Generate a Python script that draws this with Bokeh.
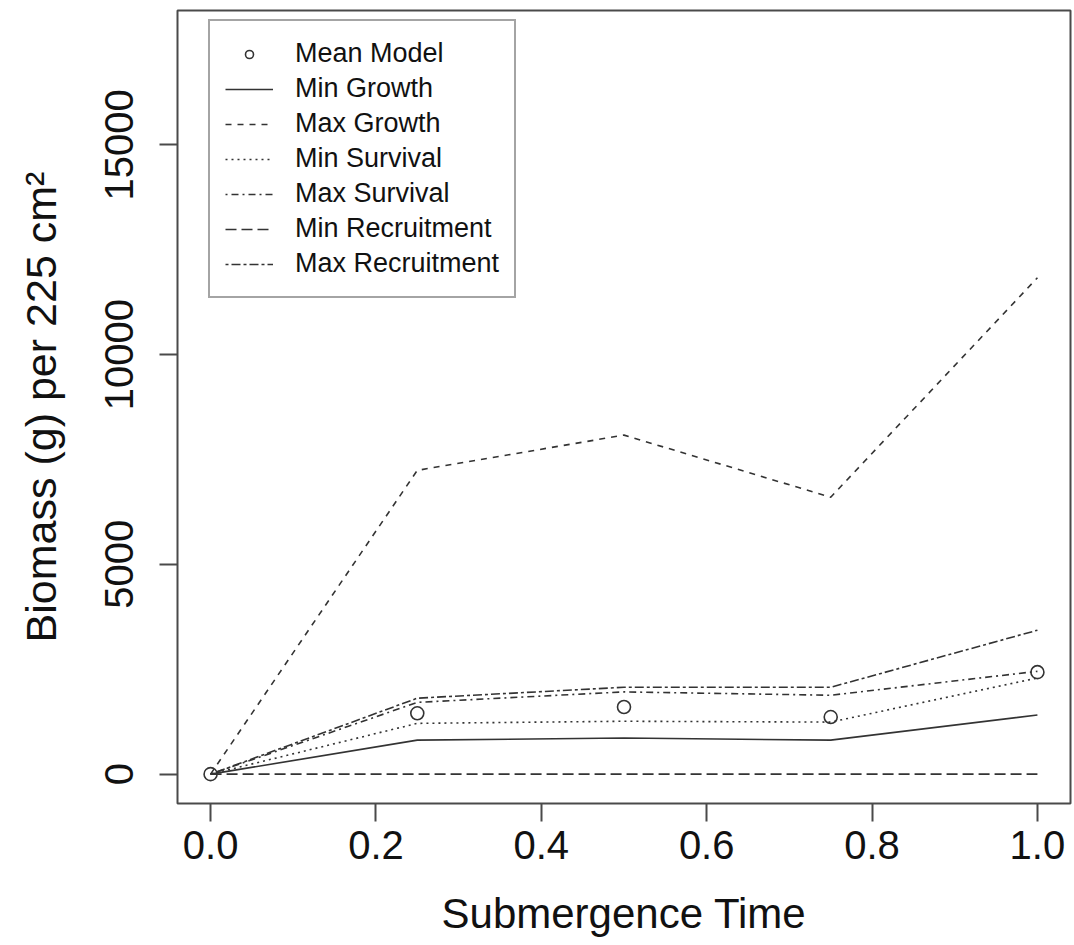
from bokeh.plotting import figure
from bokeh.models import Range1d, FixedTicker, Legend, LegendItem
from bokeh.embed import file_html
from bokeh.resources import INLINE

# ---- data ----
times = [0.0, 0.25, 0.5, 0.75, 1.0]
mean_model = [0, 1450, 1600, 1360, 2430]
min_growth = [0, 810, 860, 810, 1410]
max_growth = [0, 7240, 8080, 6600, 11830]
min_survival = [0, 1210, 1260, 1240, 2290]
max_survival = [0, 1710, 1960, 1880, 2450]
min_recruitment = [0, 0, 0, 0, 0]
max_recruitment = [0, 1810, 2070, 2070, 3430]

x_ticks = [0.0, 0.2, 0.4, 0.6, 0.8, 1.0]
x_tick_labels = ["0.0", "0.2", "0.4", "0.6", "0.8", "1.0"]
y_ticks = [0, 5000, 10000, 15000]
y_tick_labels = ["0", "5000", "10000", "15000"]

FONT = "Liberation Sans"
INK = "#333333"
FRAME = "#4a4a4a"

p = figure(width=1074, height=945, output_backend="svg", toolbar_location=None,
           x_range=Range1d(-0.04, 1.04), y_range=Range1d(-700, 18200),
           min_border_left=177, min_border_right=4, min_border_top=10,
           min_border_bottom=142)
p.background_fill_color = "white"
p.border_fill_color = "white"
p.outline_line_color = FRAME
p.outline_line_width = 2
p.xgrid.visible = False
p.ygrid.visible = False

for ax in (p.xaxis[0], p.yaxis[0]):
    ax.axis_line_color = None
    ax.major_tick_line_color = FRAME
    ax.major_tick_line_width = 2
    ax.major_tick_out = 18
    ax.major_tick_in = 0
    ax.minor_tick_line_color = None
    ax.major_label_text_font = FONT
    ax.major_label_text_font_size = "40px"
    ax.major_label_text_color = "#111111"
    ax.axis_label_text_font = FONT
    ax.axis_label_text_font_size = "42px"
    ax.axis_label_text_font_style = "normal"
    ax.axis_label_text_color = "#111111"

p.xaxis.ticker = FixedTicker(ticks=x_ticks)
p.xaxis.major_label_overrides = {t: l for t, l in zip(x_ticks, x_tick_labels)}
p.xaxis.major_label_standoff = 9
p.xaxis.axis_label = "Submergence Time"
p.xaxis.axis_label_standoff = 28

p.yaxis.ticker = FixedTicker(ticks=y_ticks)
p.yaxis.major_label_overrides = {t: l for t, l in zip(y_ticks, y_tick_labels)}
p.yaxis.major_label_orientation = "vertical"
p.yaxis.major_label_standoff = 26
p.yaxis.axis_label = "Biomass (g) per 225 cm\u00b2"
p.yaxis.axis_label_text_font_size = "43px"
p.yaxis.axis_label_standoff = 38

lw = 1.6
r_mean = p.scatter(times, mean_model, size=13, marker="circle", fill_color=None,
                   line_color=INK, line_width=1.6)
r_ming = p.line(times, min_growth, line_color=INK, line_width=lw)
r_maxg = p.line(times, max_growth, line_color=INK, line_width=lw, line_dash="6 6")
r_mins = p.line(times, min_survival, line_color=INK, line_width=lw, line_dash="2 4")
r_maxs = p.line(times, max_survival, line_color=INK, line_width=lw, line_dash="2 4 7 4")
r_minr = p.line(times, min_recruitment, line_color=INK, line_width=lw, line_dash="11 5")
r_maxr = p.line(times, max_recruitment, line_color=INK, line_width=lw, line_dash="3 3 9 3")

legend = Legend(items=[
    LegendItem(label="Mean Model", renderers=[r_mean]),
    LegendItem(label="Min Growth", renderers=[r_ming]),
    LegendItem(label="Max Growth", renderers=[r_maxg]),
    LegendItem(label="Min Survival", renderers=[r_mins]),
    LegendItem(label="Max Survival", renderers=[r_maxs]),
    LegendItem(label="Min Recruitment", renderers=[r_minr]),
    LegendItem(label="Max Recruitment", renderers=[r_maxr]),
], location=(31, 505))
legend.label_text_font = FONT
legend.label_text_font_size = "27px"
legend.label_text_color = "#111111"
legend.label_height = 35
legend.glyph_height = 20
legend.glyph_width = 48
legend.label_standoff = 22
legend.spacing = 0
legend.padding = 15
legend.margin = 0
legend.border_line_color = FRAME
legend.border_line_width = 2
legend.background_fill_color = "white"
legend.background_fill_alpha = 1.0
p.add_layout(legend, "center")

open("out.html", "w").write(file_html(p, INLINE))
